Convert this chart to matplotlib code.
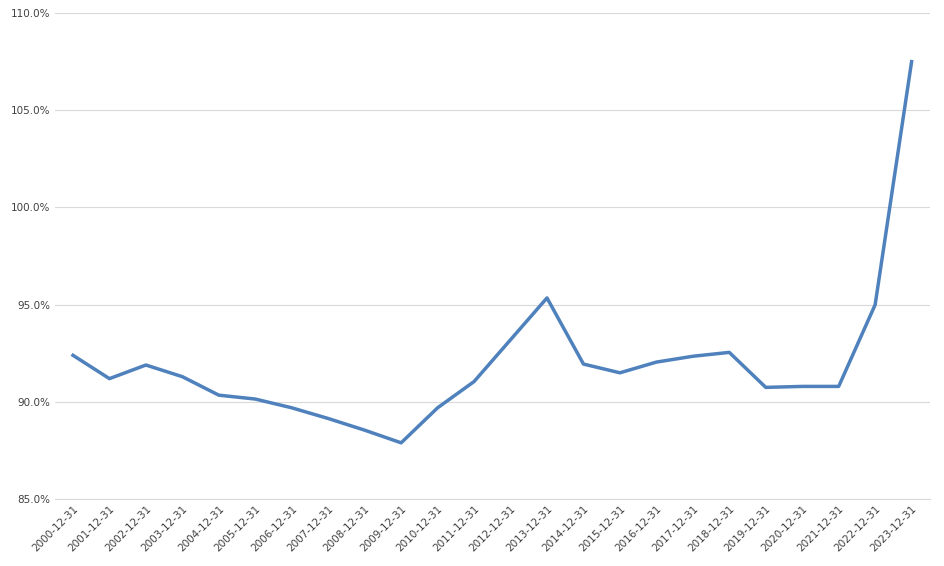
import matplotlib.pyplot as plt
from matplotlib.ticker import FuncFormatter

dates = [f"{y}-12-31" for y in range(2000, 2024)]
values = [92.4, 91.2, 91.9, 91.3, 90.35, 90.15, 89.7, 89.15, 88.55, 87.9,
          89.7, 91.05, 93.2, 95.35, 91.95, 91.5, 92.05, 92.35, 92.55, 90.75,
          90.8, 90.8, 95.0, 107.5]

fig = plt.figure(figsize=(9.44, 5.66), dpi=100)
ax = fig.add_axes([0.058, 0.118, 0.927, 0.859])
x = range(len(dates))
ax.plot(x, values, color='#4F81BD', linewidth=2.5)

ax.set_ylim(85, 110)
ax.set_yticks([85, 90, 95, 100, 105, 110])
ax.yaxis.set_major_formatter(FuncFormatter(lambda v, p: f"{v:.1f}%"))
ax.set_xlim(-0.5, len(dates) - 0.5)
ax.set_xticks(list(x))
ax.set_xticklabels(dates, rotation=45, ha='right', rotation_mode='anchor')
ax.tick_params(labelsize=7.5, colors='#404040', length=0)
ax.grid(axis='y', color='#D9D9D9', linewidth=0.8)
ax.set_axisbelow(True)
for s in ['top', 'right', 'left']:
    ax.spines[s].set_visible(False)
ax.spines['bottom'].set_color('#D9D9D9')

fig.savefig('out.png', dpi=100)
